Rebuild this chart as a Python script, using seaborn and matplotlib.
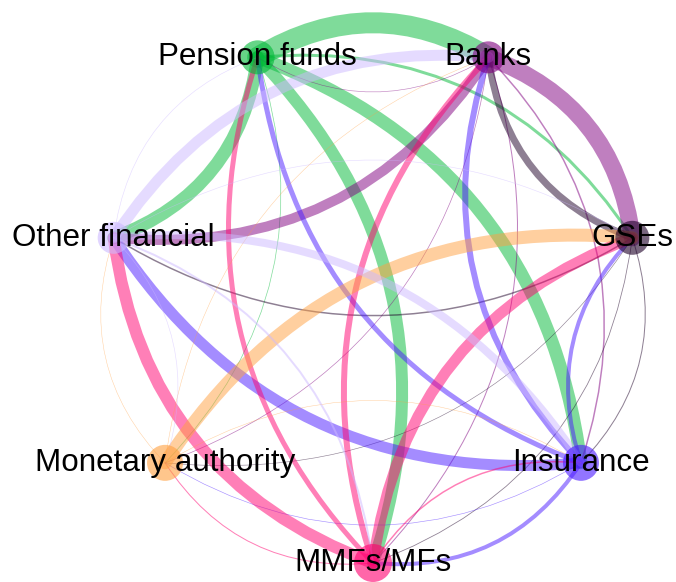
import numpy as np
import pandas as pd
import matplotlib
matplotlib.use('Agg')
import matplotlib.pyplot as plt
import seaborn as sns
from matplotlib.patches import FancyArrowPatch

# Configurações de visualização
sns.set_theme(style='white')
plt.rcParams['font.family'] = ['Liberation Sans', 'DejaVu Sans']

# Setores (ordem anti-horária a partir de baixo)
setores = ['MMFs/MFs', 'Insurance', 'GSEs', 'Banks', 'Pension funds',
           'Other financial', 'Monetary authority']
cores = ['#ff0070', '#4a1aff', '#1e0028', '#800080', '#00b937',
         '#cdb9ff', '#ffa040']
raio_no = [19, 18, 17, 16, 17, 16, 18]  # px

# Ligações: origem -> destino, espessura (px)
origem = ['Pension funds', 'Pension funds', 'Pension funds', 'Pension funds', 'Pension funds', 'Pension funds',
          'Banks', 'Banks', 'Banks', 'Banks', 'Banks', 'Banks',
          'GSEs', 'GSEs', 'GSEs', 'GSEs', 'GSEs',
          'Insurance', 'Insurance', 'Insurance', 'Insurance', 'Insurance', 'Insurance',
          'MMFs/MFs', 'MMFs/MFs', 'MMFs/MFs', 'MMFs/MFs', 'MMFs/MFs', 'MMFs/MFs',
          'Monetary authority', 'Monetary authority', 'Monetary authority', 'Monetary authority',
          'Other financial', 'Other financial', 'Other financial', 'Other financial', 'Other financial',
          'Other financial']
destino = ['Banks', 'GSEs', 'Insurance', 'MMFs/MFs', 'Monetary authority', 'Other financial',
           'Pension funds', 'GSEs', 'Insurance', 'MMFs/MFs', 'Monetary authority', 'Other financial',
           'Banks', 'Insurance', 'MMFs/MFs', 'Monetary authority', 'Other financial',
           'Pension funds', 'Banks', 'GSEs', 'MMFs/MFs', 'Monetary authority', 'Other financial',
           'Pension funds', 'Banks', 'GSEs', 'Insurance', 'Monetary authority', 'Other financial',
           'Banks', 'GSEs', 'Insurance', 'Other financial',
           'Pension funds', 'Banks', 'GSEs', 'Insurance', 'MMFs/MFs',
           'Monetary authority']
espessura = [21, 3, 13, 12, 0.7, 13,
             0.6, 17, 1.5, 1, 0.7, 10,
             7, 1, 0.8, 0.6, 1.5,
             5, 6, 4, 4, 0.6, 11,
             5, 6, 11, 1.5, 1, 12,
             0.5, 13, 0.5, 0.5,
             0.6, 11, 0.6, 8, 2,
             0.6]

# Layout circular
n = len(setores)
ang = np.deg2rad(-90 + np.arange(n) * 360 / n)
nos = pd.DataFrame({'setor': setores, 'x': np.cos(ang), 'y': np.sin(ang),
                    'raio': raio_no})
pos = {s: (x, y) for s, x, y in zip(nos.setor, nos.x, nos.y)}
cor = dict(zip(setores, cores))

W, H, DPI = 676, 582, 100
fig = plt.figure(figsize=(W / DPI, H / DPI), dpi=DPI)
ax = fig.add_axes([0, 0, 1, 1])
escala = 266.0  # px por unidade
cx, cy = 373.0, 297.0
ax.axis('off')

# Arestas curvas (cor da origem)
for o, d, w in zip(origem, destino, espessura):
    arco = FancyArrowPatch(pos[o], pos[d], connectionstyle='arc3,rad=-0.3',
                           arrowstyle='-', linewidth=w * 0.72, color=cor[o],
                           alpha=0.5, shrinkA=0, shrinkB=0, zorder=1)
    ax.add_patch(arco)

# Nós
sns.scatterplot(data=nos, x='x', y='y', hue='setor', palette=cor,
                size='raio', sizes={r: (2 * r * 0.72) ** 2 for r in raio_no},
                alpha=0.6, linewidth=0, legend=False, ax=ax, zorder=2)

for s, (x, y) in pos.items():
    ax.text(x, y, s, ha='center', va='center', fontsize=22.6, color='black', zorder=3)

ax.set_xlim(-cx / escala, (W - cx) / escala)
ax.set_ylim(-(H - cy) / escala, cy / escala)
fig.savefig('out.png', dpi=DPI)
